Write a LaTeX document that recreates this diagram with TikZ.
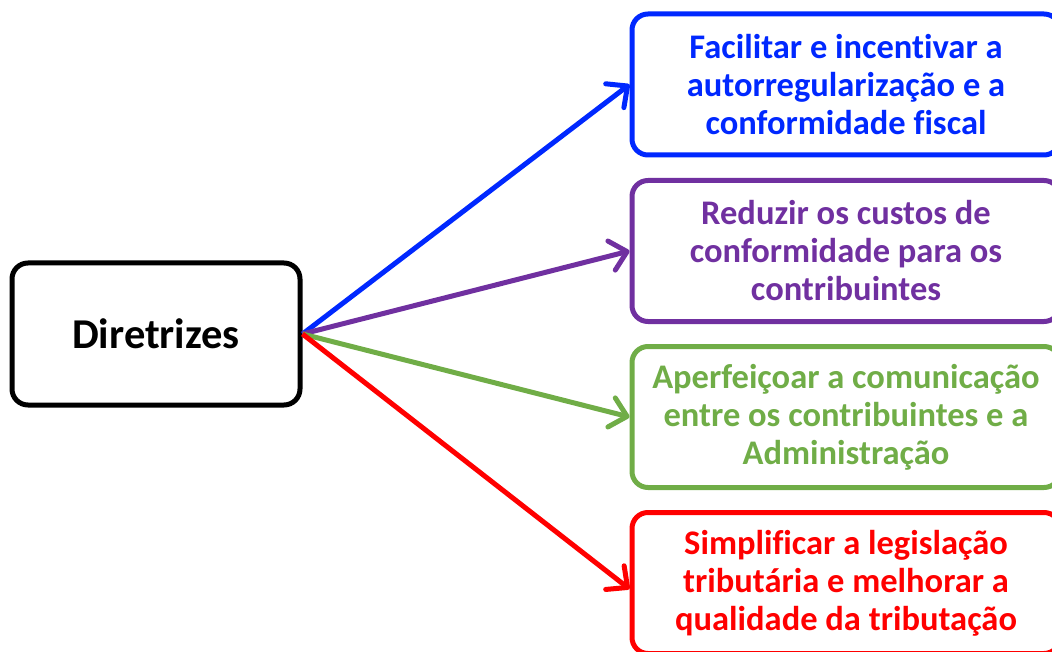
\documentclass[tikz,border=0pt]{standalone}
\usepackage{fontspec}
\setmainfont{Carlito}[Ligatures=NoCommon]
\usetikzlibrary{arrows.meta}
\definecolor{dirblue}{RGB}{0,40,255}
\definecolor{dirpurple}{RGB}{112,48,160}
\definecolor{dirgreen}{RGB}{112,173,71}
\definecolor{dirred}{RGB}{255,0,0}
\begin{document}
\begin{tikzpicture}[x=1pt, y=-1pt,
  box/.style={draw, line width=5pt, rounded corners=16pt, align=center,
    font=\bfseries\fontsize{34.5}{38}\selectfont},
  goal/.style={box, minimum width=428pt, minimum height=141pt, text=#1, draw=#1},
  link/.style={draw=#1, line width=5pt,
    -{Straight Barb[length=16pt, width=30pt, line cap=round, round]}}]
% Frame
\useasboundingbox (0,0) rectangle (1052,652);
\clip (0,0) rectangle (1052,652);

% Boxes
\node[box, minimum width=288pt, minimum height=142pt,
  font=\bfseries\fontsize{42.5}{50}\selectfont] (dir) at (156,334) {Diretrizes};
\node[goal=dirblue] (g1) at (846,84.5) {Facilitar e incentivar a\\autorregularização e a\\conformidade fiscal};
\node[goal=dirpurple] (g2) at (846,251) {Reduzir os custos de\\conformidade para os\\contribuintes};
\node[goal=dirgreen] (g3) at (846,417) {Aperfeiçoar a comunicação\\entre os contribuintes e a\\Administração};
\node[goal=dirred] (g4) at (846,583) {Simplificar a legislação\\tributária e melhorar a\\qualidade da tributação};

% Arrows
\draw[link=dirblue] (dir.east) -- (g1.west);
\draw[link=dirpurple] (dir.east) -- (g2.west);
\draw[link=dirgreen] (dir.east) -- (g3.west);
\draw[link=dirred] (dir.east) -- ([yshift=-6pt]g4.west);
\end{tikzpicture}
\end{document}
